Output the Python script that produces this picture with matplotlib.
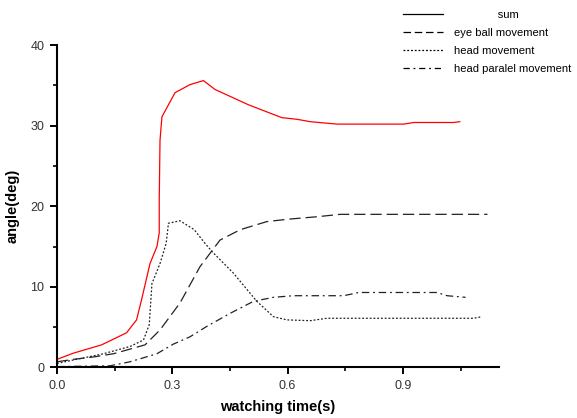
import matplotlib.pyplot as plt
from matplotlib.lines import Line2D

plt.rcParams['font.family'] = ['Liberation Sans', 'DejaVu Sans']

# datos (tiempo en s, angulo en grados)
t_sum = [0.0, 0.042, 0.116, 0.181, 0.207, 0.22, 0.242, 0.26, 0.266, 0.266, 0.268,
         0.273, 0.307, 0.346, 0.381, 0.411, 0.498, 0.585, 0.624, 0.659, 0.728,
         0.902, 0.928, 1.032, 1.048]
a_sum = [1.0, 1.76, 2.8, 4.3, 5.9, 8.4, 12.9, 15.0, 16.7, 20.8, 28.2,
         31.1, 34.1, 35.1, 35.6, 34.5, 32.6, 31.0, 30.8, 30.5, 30.2,
         30.2, 30.4, 30.4, 30.5]

t_ojo = [0.0, 0.042, 0.095, 0.147, 0.229, 0.268, 0.32, 0.372, 0.424, 0.477,
         0.546, 0.602, 0.676, 0.737, 1.12]
a_ojo = [0.7, 1.0, 1.3, 1.7, 2.8, 4.65, 8.0, 12.5, 15.8, 17.1,
         18.1, 18.4, 18.7, 19.0, 19.0]

t_cabeza = [0.0, 0.121, 0.19, 0.225, 0.24, 0.247, 0.268, 0.284, 0.29, 0.32,
            0.357, 0.385, 0.403, 0.459, 0.52, 0.563, 0.598, 0.659, 0.702,
            1.084, 1.106]
a_cabeza = [0.5, 1.7, 2.6, 3.4, 5.3, 10.4, 12.9, 15.4, 17.9, 18.2,
            17.1, 15.4, 14.4, 11.7, 8.2, 6.3, 5.9, 5.8, 6.1,
            6.1, 6.3]

t_paralelo = [0.0, 0.138, 0.19, 0.26, 0.303, 0.346, 0.39, 0.45, 0.511, 0.563,
              0.615, 0.659, 0.746, 0.785, 0.989, 1.015, 1.063]
a_paralelo = [0.1, 0.2, 0.7, 1.7, 2.9, 3.8, 5.1, 6.7, 8.2, 8.7,
              8.9, 8.9, 8.9, 9.3, 9.3, 8.9, 8.7]

etiquetas = ['sum', 'eye ball movement', 'head movement', 'head paralel movement']

fig = plt.figure(figsize=(5.77, 4.18), dpi=100)
ax = fig.add_axes([0.0988, 0.121, 0.766, 0.771])

ax.plot(t_sum, a_sum, color='red', lw=0.9)
ax.plot(t_ojo, a_ojo, color='#222222', lw=0.9, dashes=(9, 4))
ax.plot(t_cabeza, a_cabeza, color='#222222', lw=0.9, dashes=(1.5, 1.5))
ax.plot(t_paralelo, a_paralelo, color='#222222', lw=0.9, dashes=(6, 3, 1.5, 3))

ax.set_xlim(0, 1.15)
ax.set_ylim(0, 40)
ax.set_xticks([0.0, 0.3, 0.6, 0.9])
ax.set_xticks([0.15, 0.45, 0.75, 1.05], minor=True)
ax.set_xticklabels(['0.0', '0.3', '0.6', '0.9'])
ax.set_yticks([0, 10, 20, 30, 40])
ax.set_yticks([5, 15, 25, 35], minor=True)

for lado in ['top', 'right']:
    ax.spines[lado].set_visible(False)
for lado in ['left', 'bottom']:
    ax.spines[lado].set_linewidth(1.5)

ax.tick_params(which='major', direction='out', length=5, width=1.4,
               labelsize=9, labelcolor='#333333', pad=4)
ax.tick_params(which='minor', direction='out', length=3, width=1.2)

ax.set_xlabel('watching time(s)', fontsize=10.5, fontweight='bold', labelpad=6)
ax.set_ylabel('angle(deg)', fontsize=10.5, fontweight='bold', labelpad=8)

# leyenda con lineas negras como en el original
handles = [Line2D([], [], color='black', lw=0.9),
           Line2D([], [], color='black', lw=0.9, dashes=(6, 3)),
           Line2D([], [], color='black', lw=0.9, dashes=(1.5, 1.5)),
           Line2D([], [], color='black', lw=0.9, dashes=(5, 3, 1.5, 3))]
labels = ['              ' + etiquetas[0]] + etiquetas[1:]
fig.legend(handles, labels, loc='upper left', bbox_to_anchor=(403 / 577, 1 - 10 / 418),
           frameon=False, fontsize=8, handlelength=3.6, handletextpad=1.0,
           labelspacing=0.72, borderaxespad=0, borderpad=0)

plt.savefig('out.png', dpi=100)
